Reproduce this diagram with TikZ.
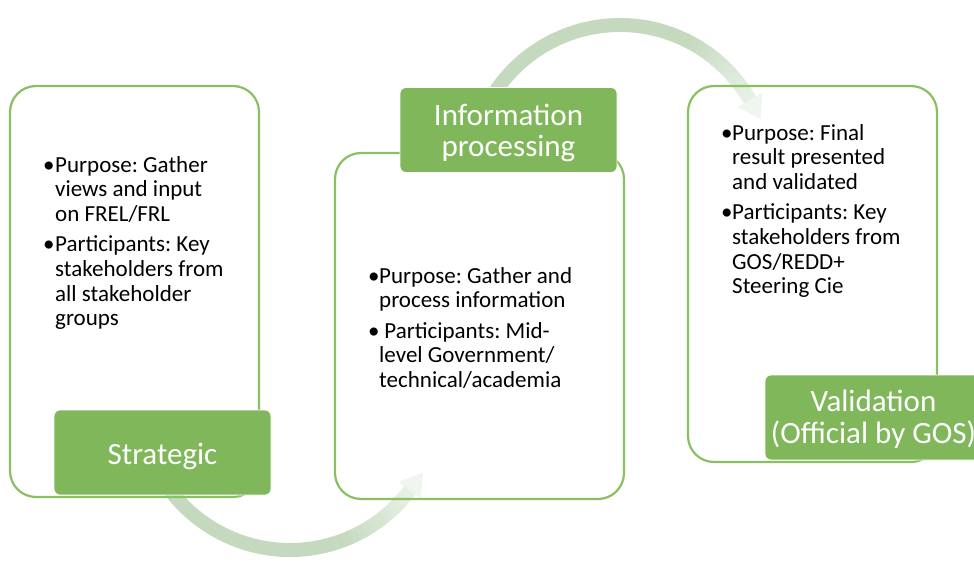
\documentclass[tikz,border=0pt]{standalone}
\usepackage{fontspec}
\setmainfont{Carlito}
\usetikzlibrary{calc}
\definecolor{lblgreen}{RGB}{127,183,90}
\definecolor{boxgreen}{RGB}{137,192,98}
\definecolor{sage}{RGB}{196,217,190}
\frenchspacing
\begin{document}
\begin{tikzpicture}[x=1pt,y=-1pt,
  panel/.style={draw=boxgreen, line width=2.2pt, rounded corners=26pt, inner sep=0pt, outer sep=0pt, anchor=north west},
  lbl/.style={fill=lblgreen, draw=white, line width=0.8pt, rounded corners=6pt, minimum width=217pt, minimum height=85pt, inner sep=0pt, text=white, align=center, font=\fontsize{31}{31.5}\selectfont},
  body/.style={anchor=base west, inner sep=0pt, font=\fontsize{23}{24.6}\selectfont},
  band/.style={line width=14pt}]
\clip (0,0) rectangle (974,562);
\useasboundingbox (0,0) rectangle (974,562);
% arcs
\coordinate (cb) at (290,400);
\coordinate (ct) at (620,175);
\draw[band, sage] ($(cb)+(160:150)$) arc[start angle=160, end angle=72, radius=150];
\foreach \i in {0,...,11} {
  \pgfmathsetmacro\a{72-\i*35/12}
  \pgfmathsetmacro\b{72-(\i+1)*35/12-0.4}
  \pgfmathtruncatemacro\m{100-\i*65/12}
  \draw[band, sage!\m!white] ($(cb)+(\a:150)$) arc[start angle=\a, end angle=\b, radius=150];
}
\fill[sage!25!white] ($(cb)+(37:164)$) -- ($(cb)+(37:136)$) -- ($(cb)+(37:150)+(-53:22)$) -- cycle;
\draw[band, sage] ($(ct)+(210:150)$) arc[start angle=210, end angle=295, radius=150];
\foreach \i in {0,...,11} {
  \pgfmathsetmacro\a{295+\i*35/12}
  \pgfmathsetmacro\b{295+(\i+1)*35/12+0.4}
  \pgfmathtruncatemacro\m{100-\i*65/12}
  \draw[band, sage!\m!white] ($(ct)+(\a:150)$) arc[start angle=\a, end angle=\b, radius=150];
}
\fill[sage!25!white] ($(ct)+(330:164)$) -- ($(ct)+(330:136)$) -- ($(ct)+(330:150)+(60:22)$) -- cycle;
% panels
\node[panel, minimum width=249pt, minimum height=411pt] (p1) at (10,86) {};
\node[panel, minimum width=289pt, minimum height=346pt] (p2) at (335,153) {};
\node[panel, minimum width=249pt, minimum height=376pt] (p3) at (688,86) {};
% texts
\node[body] (t1) at (43,172) {\begin{tabular}[t]{@{}p{12pt}@{}l@{}}
•&Purpose: Gather\\ &views and input\\ &on FREL/FRL\\[6pt]
•&Participants: Key\\ &stakeholders from\\ &all stakeholder\\ &groups\end{tabular}};
\node[body] (t2) at (368,283) {\begin{tabular}[t]{@{}p{11pt}@{}l@{}}
•&Purpose: Gather and\\ &process information\\[6pt]
•&\ Participants: Mid-\\ &level Government/\\ &technical/academia\end{tabular}};
\node[body] (t3) at (721,140) {\begin{tabular}[t]{@{}p{11pt}@{}l@{}}
•&Purpose: Final\\ &result presented\\ &and validated\\[6pt]
•&Participants: Key\\ &stakeholders from\\ &GOS/REDD+\\ &Steering Cie\end{tabular}};
% labels
\node[lbl] (l1) at (162.5,452.5) {};
\node[text=white, font=\fontsize{31}{31.5}\selectfont, inner sep=0pt] (s1) at (162.5,456.5) {Strategic};
\node[lbl] (l2) at (508.5,130) {};
\node[text=white, font=\fontsize{31}{31.5}\selectfont, inner sep=0pt, align=center] (s2) at (508.5,133) {Information\\processing};
\node[lbl] (l3) at (873.5,417.5) {};
\node[text=white, font=\fontsize{31}{31.5}\selectfont, inner sep=0pt, align=center] (s3) at (873.5,419) {Validation\\(Official by GOS)};
\end{tikzpicture}
\end{document}
